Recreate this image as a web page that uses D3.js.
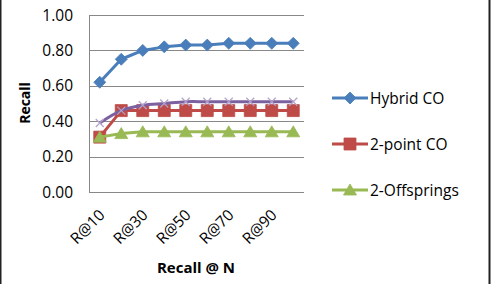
<!DOCTYPE html>
<html>
<head>
<meta charset="utf-8">
<script src="https://cdn.jsdelivr.net/npm/d3@7"></script>
<style>
  body { margin: 0; background: #fff; }
  text { font-family: "Open Sans", sans-serif; fill: #000; }
</style>
</head>
<body>
<div id="chart"></div>
<script>
// data
var categories = ["R@10", "R@20", "R@30", "R@40", "R@50", "R@60", "R@70", "R@80", "R@90", "R@100"];
var hybrid = [0.62, 0.75, 0.80, 0.82, 0.83, 0.83, 0.84, 0.84, 0.84, 0.84];
var twoPoint = [0.31, 0.46, 0.46, 0.46, 0.46, 0.46, 0.46, 0.46, 0.46, 0.46];
var offsprings = [0.31, 0.33, 0.34, 0.34, 0.34, 0.34, 0.34, 0.34, 0.34, 0.34];
var fourth = [0.39, 0.46, 0.49, 0.50, 0.51, 0.51, 0.51, 0.51, 0.51, 0.51];
var yTicks = [0, 0.2, 0.4, 0.6, 0.8, 1.0];

var w = 491, h = 284;
var svg = d3.select("#chart").append("svg")
  .attr("width", w)
  .attr("height", h);

// frame edges
svg.append("rect").attr("x", 0).attr("y", 0).attr("width", 1.5).attr("height", h).attr("fill", "#222");
svg.append("rect").attr("x", 488.5).attr("y", 0).attr("width", 2).attr("height", h).attr("fill", "#222");

// plot area (don't call these top/left, window.top is read-only)
var plotLeft = 89, plotRight = 304, plotTop = 15, plotBottom = 192;

var x = d3.scalePoint()
  .domain(categories)
  .range([plotLeft, plotRight])
  .padding(0.5);
var y = d3.scaleLinear().domain([0, 1]).range([plotBottom, plotTop]);

// gridlines
svg.append("g")
  .selectAll("line")
  .data(yTicks)
  .enter()
  .append("line")
  .attr("x1", plotLeft)
  .attr("x2", plotRight)
  .attr("y1", function(d) { return Math.round(y(d)) + 0.5; })
  .attr("y2", function(d) { return Math.round(y(d)) + 0.5; })
  .attr("stroke", "#888")
  .attr("stroke-width", 1);

// left axis line
svg.append("line")
  .attr("x1", plotLeft + 0.5).attr("x2", plotLeft + 0.5)
  .attr("y1", plotTop).attr("y2", plotBottom + 1)
  .attr("stroke", "#888");

// y tick labels
svg.append("g")
  .selectAll("text")
  .data(yTicks)
  .enter()
  .append("text")
  .attr("x", 73)
  .attr("y", function(d) { return y(d) + 5.5; })
  .attr("text-anchor", "end")
  .style("font-size", "15.5px")
  .text(function(d) { return d3.format(".2f")(d); });

// x tick labels (every other one)
svg.append("g")
  .selectAll("text")
  .data(categories.filter(function(d, i) { return i % 2 == 0; }))
  .enter()
  .append("text")
  .attr("transform", function(d) {
    return "translate(" + (x(d) + 6) + ",216) rotate(-45)";
  })
  .attr("text-anchor", "end")
  .style("font-size", "15.5px")
  .text(function(d) { return d; });

// axis titles
svg.append("text")
  .attr("x", 196)
  .attr("y", 273)
  .attr("text-anchor", "middle")
  .style("font-size", "15px")
  .style("font-weight", "bold")
  .text("Recall @ N");

svg.append("text")
  .attr("transform", "translate(30,103) rotate(-90)")
  .attr("text-anchor", "middle")
  .style("font-size", "14px")
  .style("font-weight", "bold")
  .text("Recall");

var series = [
  { name: "Hybrid CO", values: hybrid, color: "#4A7EBB", marker: "diamond", legend: true },
  { name: "2-point CO", values: twoPoint, color: "#BE4B48", marker: "square", legend: true },
  { name: "2-Offsprings", values: offsprings, color: "#98B954", marker: "triangle", legend: true },
  { name: "", values: fourth, color: "#7D60A0", marker: "x", legend: false, smooth: true }
];

function markerPath(type) {
  if (type == "diamond") return "M0,-6L6,0L0,6L-6,0Z";
  if (type == "square") return "M-6,-6H6V6H-6Z";
  if (type == "triangle") return "M0,-6L6.5,5L-6.5,5Z";
  return "M-4,-4L4,4M-4,4L4,-4";
}

function drawMarker(g, type, color) {
  if (type == "x") {
    g.append("path")
      .attr("d", markerPath(type))
      .attr("fill", "none")
      .attr("stroke", "#B3A2C7")
      .attr("stroke-width", 1.2);
  } else {
    g.append("path")
      .attr("d", markerPath(type))
      .attr("fill", color)
      .attr("stroke", color)
      .attr("stroke-width", 0.8);
  }
}

series.forEach(function(s) {
  var line = d3.line()
    .x(function(d, i) { return x(categories[i]); })
    .y(function(d) { return y(d); });
  if (s.smooth) line.curve(d3.curveCatmullRom.alpha(0.5));

  var g = svg.append("g");
  g.append("path")
    .datum(s.values)
    .attr("d", line)
    .attr("fill", "none")
    .attr("stroke", s.color)
    .attr("stroke-width", 3)
    .attr("stroke-linejoin", "round");

  s.values.forEach(function(v, i) {
    var m = g.append("g")
      .attr("transform", "translate(" + x(categories[i]) + "," + y(v) + ")");
    drawMarker(m, s.marker, s.color);
  });
});

// legend
var legend = svg.append("g")
  .selectAll("g")
  .data(series.filter(function(s) { return s.legend; }))
  .enter()
  .append("g")
  .attr("transform", function(d, i) { return "translate(332," + (98 + i * 46) + ")"; });

legend.append("line")
  .attr("x1", 0).attr("x2", 36)
  .attr("y1", 0).attr("y2", 0)
  .attr("stroke", function(d) { return d.color; })
  .attr("stroke-width", 3);

legend.each(function(d) {
  var m = d3.select(this).append("g").attr("transform", "translate(18,0)");
  drawMarker(m, d.marker, d.color);
});

legend.append("text")
  .attr("x", 38)
  .attr("y", 5.5)
  .style("font-size", "15.5px")
  .text(function(d) { return d.name; });
</script>
</body>
</html>
